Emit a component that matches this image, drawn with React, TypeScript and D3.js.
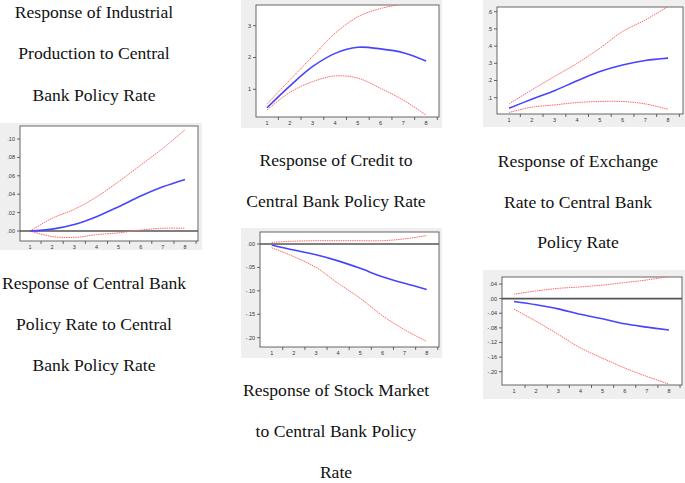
import React from "react";
import * as d3 from "d3";

const periods = [1, 2, 3, 4, 5, 6, 7, 8];

// Industrial production
const ipResp = [0.0, 0.002, 0.007, 0.0156, 0.0264, 0.038, 0.048, 0.056];
const ipUpper = [0.0, 0.0138, 0.0236, 0.037, 0.0536, 0.0717, 0.0899, 0.11];
const ipLower = [0.0, -0.006, -0.007, -0.004, -0.002, 0.001, 0.003, 0.003];
const ipTicks = [0, 0.02, 0.04, 0.06, 0.08, 0.1];
const ipTickLabels = [".00", ".02", ".04", ".06", ".08", ".10"];

// Credit
const crResp = [0.42, 1.1, 1.71, 2.13, 2.32, 2.27, 2.15, 1.89];
const crUpper = [0.54, 1.29, 2.03, 2.76, 3.28, 3.54, 3.68, 3.8];
const crLower = [0.35, 0.9, 1.24, 1.42, 1.35, 1.03, 0.66, 0.19];
const crTicks = [1, 2, 3];
const crTickLabels = ["1", "2", "3"];

// Exchange rate
const exResp = [0.039, 0.091, 0.141, 0.198, 0.252, 0.29, 0.316, 0.33];
const exUpper = [0.064, 0.145, 0.223, 0.3, 0.388, 0.485, 0.552, 0.63];
const exLower = [0.014, 0.045, 0.058, 0.072, 0.078, 0.078, 0.064, 0.033];
const exTicks = [0.1, 0.2, 0.3, 0.4, 0.5, 0.6];
const exTickLabels = [".1", ".2", ".3", ".4", ".5", ".6"];

// Stock market
const smResp = [-0.002, -0.013, -0.023, -0.036, -0.052, -0.07, -0.084, -0.097];
const smUpper = [0.0036, 0.006, 0.007, 0.007, 0.007, 0.007, 0.011, 0.018];
const smLower = [-0.008, -0.027, -0.05, -0.084, -0.116, -0.153, -0.183, -0.208];
const smTicks = [0, -0.05, -0.1, -0.15, -0.2];
const smTickLabels = [".00", "-.05", "-.10", "-.15", "-.20"];

// Central bank policy rate
const cbResp = [-0.008, -0.017, -0.028, -0.043, -0.055, -0.069, -0.078, -0.086];
const cbUpper = [0.012, 0.021, 0.028, 0.032, 0.037, 0.044, 0.051, 0.061];
const cbLower = [-0.029, -0.062, -0.098, -0.135, -0.163, -0.19, -0.213, -0.234];
const cbTicks = [0.04, 0, -0.04, -0.08, -0.12, -0.16, -0.2];
const cbTickLabels = [".04", ".00", "-.04", "-.08", "-.12", "-.16", "-.20"];

type PanelProps = {
  id: string;
  bg: [number, number, number, number];
  box: [number, number, number, number];
  xPix: [number, number];
  yRef: [number, number, number, number];
  ticks: number[];
  tickLabels: string[];
  resp: number[];
  upper: number[];
  lower: number[];
  zero: boolean;
};

function Panel(p: PanelProps) {
  const [bx0, by0, bx1, by1] = p.box;
  const x = d3.scaleLinear().domain([1, 8]).range(p.xPix);
  const y = d3.scaleLinear().domain([p.yRef[0], p.yRef[2]]).range([p.yRef[1], p.yRef[3]]);
  const line = d3
    .line<number>()
    .x((_, i) => x(periods[i]))
    .y((d) => y(d))
    .curve(d3.curveCatmullRom.alpha(0.5));
  const xTicks = d3.range(0.5, 9.0, 1).filter((t) => x(t) > bx0 + 1 && x(t) < bx1 - 1);
  return (
    <g>
      <defs>
        <clipPath id={p.id}>
          <rect x={bx0} y={by0} width={bx1 - bx0} height={by1 - by0} />
        </clipPath>
      </defs>
      <rect x={p.bg[0]} y={p.bg[1]} width={p.bg[2] - p.bg[0]} height={p.bg[3] - p.bg[1]} fill="#efefef" />
      <rect x={bx0} y={by0} width={bx1 - bx0} height={by1 - by0} fill="#ffffff" stroke="#666" strokeWidth={1} />
      <g clipPath={`url(#${p.id})`}>
        {p.zero && (
          <line x1={bx0} x2={bx1} y1={y(0)} y2={y(0)} stroke="#555" strokeWidth={1.6} />
        )}
        <path d={line(p.upper) || ""} fill="none" stroke="#ff6666" strokeWidth={1} strokeDasharray="1.5,0.8" />
        <path d={line(p.lower) || ""} fill="none" stroke="#ff6666" strokeWidth={1} strokeDasharray="1.5,0.8" />
        <path d={line(p.resp) || ""} fill="none" stroke="#4545ff" strokeWidth={1.6} />
      </g>
      {p.ticks.map((t, i) => (
        <g key={"y" + i}>
          <line x1={bx0 - 3} x2={bx0} y1={y(t)} y2={y(t)} stroke="#444" strokeWidth={0.8} />
          <text
            x={bx0 - 5}
            y={y(t)}
            dy="0.35em"
            textAnchor="end"
            fontSize={5.5}
            fontFamily="Liberation Sans, Arial, sans-serif"
            fill="#333"
          >
            {p.tickLabels[i]}
          </text>
        </g>
      ))}
      {xTicks.map((t, i) => (
        <line key={"xt" + i} x1={x(t)} x2={x(t)} y1={by1} y2={by1 + 3} stroke="#444" strokeWidth={0.8} />
      ))}
      {periods.map((t) => (
        <text
          key={"xl" + t}
          x={x(t)}
          y={by1 + 8}
          textAnchor="middle"
          fontSize={5.5}
          fontFamily="Liberation Sans, Arial, sans-serif"
          fill="#333"
        >
          {t}
        </text>
      ))}
    </g>
  );
}

type Caption = { cx: number; lines: string[]; baselines: number[] };

const captions: Caption[] = [
  { cx: 94, lines: ["Response of Industrial", "Production to Central", "Bank Policy Rate"], baselines: [18, 59, 101] },
  { cx: 94, lines: ["Response of Central Bank", "Policy Rate to Central", "Bank Policy Rate"], baselines: [289, 330, 371] },
  { cx: 336, lines: ["Response of Credit to", "Central Bank Policy Rate"], baselines: [166, 207] },
  { cx: 578, lines: ["Response of Exchange", "Rate to Central Bank", "Policy Rate"], baselines: [167, 208, 248] },
  { cx: 336, lines: ["Response of Stock Market", "to Central Bank Policy", "Rate"], baselines: [396, 437, 478] },
];

export default function App() {
  return (
    <svg
      width={685}
      height={483}
      style={{ position: "absolute", left: 0, top: 0, background: "#fff" }}
    >
      <rect x={0} y={0} width={685} height={483} fill="#fff" />
      <Panel
        id="c1"
        bg={[0, 123, 202, 250]}
        box={[20, 126, 198, 241]}
        xPix={[30, 185]}
        yRef={[0.1, 139, 0, 231]}
        ticks={ipTicks}
        tickLabels={ipTickLabels}
        resp={ipResp}
        upper={ipUpper}
        lower={ipLower}
        zero={true}
      />
      <Panel
        id="c2"
        bg={[241, 0, 442, 128]}
        box={[256, 5, 439, 117]}
        xPix={[267, 426]}
        yRef={[3, 25.7, 1, 89.3]}
        ticks={crTicks}
        tickLabels={crTickLabels}
        resp={crResp}
        upper={crUpper}
        lower={crLower}
        zero={false}
      />
      <Panel
        id="c3"
        bg={[483, 0, 685, 127]}
        box={[497, 7, 683, 114]}
        xPix={[509, 668]}
        yRef={[0.6, 11.7, 0.1, 97.7]}
        ticks={exTicks}
        tickLabels={exTickLabels}
        resp={exResp}
        upper={exUpper}
        lower={exLower}
        zero={false}
      />
      <Panel
        id="c4"
        bg={[241, 228, 442, 358]}
        box={[260, 232, 439, 347]}
        xPix={[271.7, 426.7]}
        yRef={[0, 244, -0.2, 337.7]}
        ticks={smTicks}
        tickLabels={smTickLabels}
        resp={smResp}
        upper={smUpper}
        lower={smLower}
        zero={true}
      />
      <Panel
        id="c5"
        bg={[483, 270, 685, 399]}
        box={[502, 277, 682, 385]}
        xPix={[514, 669]}
        yRef={[0.04, 284, -0.2, 371.7]}
        ticks={cbTicks}
        tickLabels={cbTickLabels}
        resp={cbResp}
        upper={cbUpper}
        lower={cbLower}
        zero={true}
      />
      {captions.map((c, i) =>
        c.lines.map((l, j) => (
          <text
            key={i + "-" + j}
            x={c.cx}
            y={c.baselines[j]}
            textAnchor="middle"
            fontSize={17.6}
            fontFamily="Liberation Serif, Times New Roman, serif"
            fill="#111"
          >
            {l}
          </text>
        ))
      )}
    </svg>
  );
}
